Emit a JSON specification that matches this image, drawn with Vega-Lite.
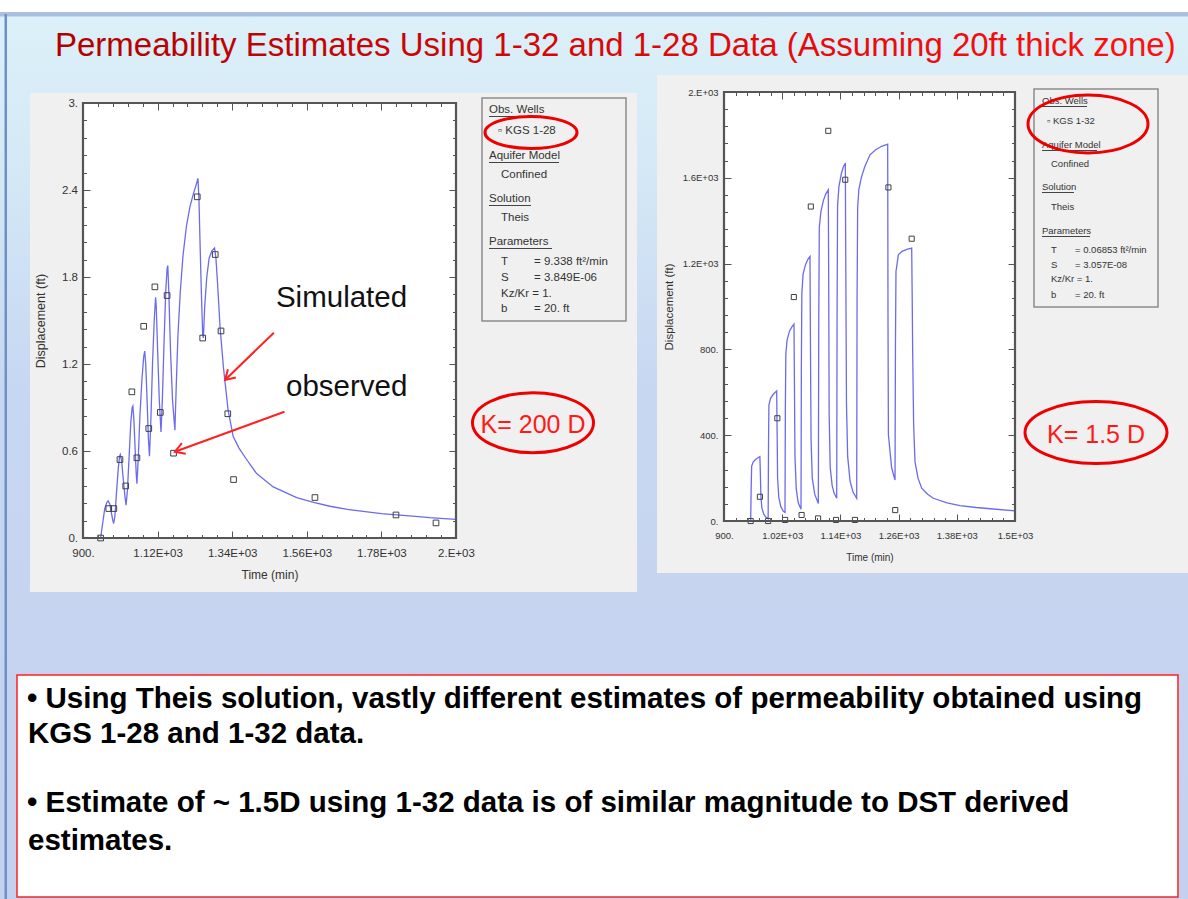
{
"$schema": "https://vega.github.io/schema/vega-lite/v6.json",
"width": 1188, "height": 899, "autosize": "none", "padding": 0,
"background": "#ffffff",
"config": {"view": {"stroke": null}, "font": "Liberation Sans, Arial, sans-serif", "axis": {"zindex": 2}},
"data": {"values": [{}]},
"datasets": {
"left_obs": [
{"t":952,"v":0.0},{"t":976,"v":0.203},{"t":991,"v":0.203},{"t":1009,"v":0.541},{"t":1026,"v":0.359},{"t":1044,"v":1.008},{"t":1059,"v":0.553},{"t":1079,"v":1.46},{"t":1094,"v":0.755},{"t":1112,"v":1.732},{"t":1128,"v":0.866},{"t":1148,"v":1.672},{"t":1167,"v":0.585},{"t":1237,"v":2.353},{"t":1253,"v":1.379},{"t":1290,"v":1.955},{"t":1307,"v":1.428},{"t":1327,"v":0.857},{"t":1344,"v":0.403},{"t":1584,"v":0.279},{"t":1823,"v":0.159},{"t":1941,"v":0.104}],
"left_sim": [
{"t":952,"v":0},{"t":958,"v":0.1},{"t":964,"v":0.2},{"t":970,"v":0.245},{"t":974,"v":0.256},{"t":979,"v":0.235},{"t":984,"v":0.17},{"t":988,"v":0.12},{"t":990.5,"v":0.1},{"t":994,"v":0.15},{"t":999,"v":0.32},{"t":1004,"v":0.48},{"t":1008,"v":0.565},{"t":1010,"v":0.576},{"t":1014,"v":0.53},{"t":1019,"v":0.4},{"t":1024,"v":0.28},{"t":1027,"v":0.226},{"t":1031,"v":0.33},{"t":1036,"v":0.56},{"t":1041,"v":0.8},{"t":1045,"v":0.9},{"t":1047,"v":0.91},{"t":1050,"v":0.82},{"t":1054,"v":0.6},{"t":1057,"v":0.44},{"t":1059,"v":0.375},{"t":1063,"v":0.55},{"t":1068,"v":0.85},{"t":1074,"v":1.1},{"t":1079,"v":1.25},{"t":1082,"v":1.289},{"t":1085,"v":1.2},{"t":1089,"v":0.95},{"t":1093,"v":0.68},{"t":1096,"v":0.564},{"t":1100,"v":0.8},{"t":1105,"v":1.2},{"t":1110,"v":1.5},{"t":1114,"v":1.66},{"t":1116,"v":1.6},{"t":1120,"v":1.3},{"t":1125,"v":0.95},{"t":1130,"v":0.732},{"t":1134,"v":0.95},{"t":1139,"v":1.35},{"t":1144,"v":1.7},{"t":1148,"v":1.86},{"t":1150,"v":1.879},{"t":1153,"v":1.7},{"t":1158,"v":1.3},{"t":1164,"v":0.95},{"t":1171,"v":0.744},{"t":1175,"v":1.05},{"t":1180,"v":1.4},{"t":1187,"v":1.7},{"t":1195,"v":1.95},{"t":1205,"v":2.15},{"t":1215,"v":2.28},{"t":1225,"v":2.37},{"t":1233,"v":2.43},{"t":1239,"v":2.48},{"t":1242,"v":2.33},{"t":1245,"v":2.05},{"t":1249,"v":1.7},{"t":1253,"v":1.4},{"t":1255,"v":1.38},{"t":1259,"v":1.6},{"t":1265,"v":1.8},{"t":1272,"v":1.93},{"t":1280,"v":1.98},{"t":1288,"v":2.0},{"t":1292,"v":1.93},{"t":1297,"v":1.75},{"t":1304,"v":1.46},{"t":1314,"v":1.18},{"t":1328,"v":0.88},{"t":1343,"v":0.7},{"t":1360,"v":0.62},{"t":1380,"v":0.55},{"t":1412,"v":0.444},{"t":1461,"v":0.352},{"t":1530,"v":0.279},{"t":1580,"v":0.245},{"t":1628,"v":0.219},{"t":1680,"v":0.197},{"t":1726,"v":0.184},{"t":1780,"v":0.168},{"t":1825,"v":0.159},{"t":1880,"v":0.149},{"t":1923,"v":0.14},{"t":1965,"v":0.134},{"t":2000,"v":0.129}],
"right_obs": [
{"t":955,"v":0},{"t":974,"v":113},{"t":991,"v":0},{"t":1010,"v":479},{"t":1026,"v":5},{"t":1044,"v":1044},{"t":1060,"v":28},{"t":1079,"v":1466},{"t":1094,"v":12},{"t":1115,"v":1819},{"t":1131,"v":5},{"t":1150,"v":1591},{"t":1170,"v":5},{"t":1239,"v":1555},{"t":1253,"v":51},{"t":1287,"v":1316}],
"right_sim": [
{"t":955,"v":0},{"t":956,"v":150},{"t":957,"v":255},{"t":960,"v":275},{"t":965,"v":287},{"t":970,"v":295},{"t":974,"v":300},{"t":975,"v":220},{"t":976,"v":120},{"t":978,"v":62},{"t":982,"v":32},{"t":987,"v":16},{"t":991,"v":10},{"t":991.8,"v":360},{"t":992.6,"v":540},{"t":996,"v":572},{"t":1002,"v":592},{"t":1008.6,"v":606},{"t":1009.5,"v":420},{"t":1010.5,"v":200},{"t":1013,"v":110},{"t":1017,"v":68},{"t":1022,"v":46},{"t":1025.8,"v":40},{"t":1026.5,"v":520},{"t":1027.5,"v":780},{"t":1030,"v":842},{"t":1035,"v":885},{"t":1040,"v":905},{"t":1044.3,"v":918},{"t":1045.2,"v":650},{"t":1046.3,"v":300},{"t":1049,"v":150},{"t":1053,"v":85},{"t":1058.8,"v":55},{"t":1059.5,"v":720},{"t":1060.5,"v":1060},{"t":1063,"v":1150},{"t":1068,"v":1195},{"t":1073,"v":1220},{"t":1077.3,"v":1233},{"t":1078.2,"v":850},{"t":1079.5,"v":380},{"t":1082,"v":200},{"t":1087,"v":125},{"t":1094.5,"v":82},{"t":1095.4,"v":950},{"t":1096.5,"v":1370},{"t":1100,"v":1445},{"t":1105,"v":1495},{"t":1110,"v":1525},{"t":1115,"v":1544},{"t":1115.8,"v":1150},{"t":1116.8,"v":500},{"t":1119,"v":250},{"t":1123,"v":165},{"t":1127,"v":130},{"t":1132.4,"v":106},{"t":1133.2,"v":1000},{"t":1134.2,"v":1470},{"t":1137,"v":1560},{"t":1142,"v":1620},{"t":1146,"v":1650},{"t":1150.2,"v":1669},{"t":1151,"v":1250},{"t":1152.5,"v":550},{"t":1155,"v":300},{"t":1160,"v":185},{"t":1166,"v":135},{"t":1173.6,"v":106},{"t":1174.4,"v":1050},{"t":1175.6,"v":1460},{"t":1178,"v":1545},{"t":1183,"v":1600},{"t":1190,"v":1650},{"t":1201,"v":1707},{"t":1212,"v":1730},{"t":1225,"v":1747},{"t":1237.5,"v":1757},{"t":1238.2,"v":900},{"t":1239,"v":401},{"t":1245.7,"v":247},{"t":1252.6,"v":191},{"t":1253.5,"v":820},{"t":1254.6,"v":1163},{"t":1259.5,"v":1241},{"t":1267,"v":1257},{"t":1277,"v":1266},{"t":1287,"v":1272},{"t":1288,"v":1050},{"t":1289,"v":790},{"t":1291,"v":450},{"t":1293.8,"v":277},{"t":1300,"v":200},{"t":1307.6,"v":153},{"t":1320,"v":125},{"t":1331.6,"v":106},{"t":1360,"v":85},{"t":1386.6,"v":72},{"t":1420,"v":63},{"t":1455,"v":56},{"t":1500,"v":47}]
},
"resolve": {"scale": {"x": "independent", "y": "independent"}, "axis": {"x": "independent", "y": "independent"}},
"layer": [
{
"layer": [
{"mark": {"type": "rect", "fill": {"gradient": "linear", "x1": 0, "y1": 0, "x2": 0, "y2": 1, "stops": [{"offset": 0, "color": "#dbf0f8"}, {"offset": 0.15, "color": "#d5eaf6"}, {"offset": 0.42, "color": "#c8d7f1"}, {"offset": 1, "color": "#c3d0ef"}]}},
 "encoding": {"x": {"datum": 0, "type": "quantitative", "scale": {"domain": [0, 1188], "range": [0, 1188], "nice": false, "zero": false}, "axis": null}, "x2": {"datum": 1188},
  "y": {"datum": 15, "type": "quantitative", "scale": {"domain": [0, 899], "range": [0, 899], "nice": false, "zero": false}, "axis": null}, "y2": {"datum": 899}}},
{"mark": {"type": "rect", "fill": "#a9bfe2"}, "encoding": {"x": {"datum": 0, "type": "quantitative", "axis": null}, "x2": {"datum": 1188}, "y": {"datum": 12, "type": "quantitative", "axis": null}, "y2": {"datum": 16.5}}},
{"mark": {"type": "rect", "fill": "#6f90c6"}, "encoding": {"x": {"datum": 4.5, "type": "quantitative", "axis": null}, "x2": {"datum": 7}, "y": {"datum": 14, "type": "quantitative", "axis": null}, "y2": {"datum": 899}}},
{"mark": {"type": "rect", "fill": "#f0f0f0"}, "encoding": {"x": {"datum": 30, "type": "quantitative", "axis": null}, "x2": {"datum": 637}, "y": {"datum": 93, "type": "quantitative", "axis": null}, "y2": {"datum": 592}}},
{"mark": {"type": "rect", "fill": "#f0f0f0"}, "encoding": {"x": {"datum": 657, "type": "quantitative", "axis": null}, "x2": {"datum": 1188}, "y": {"datum": 75, "type": "quantitative", "axis": null}, "y2": {"datum": 573}}},
{"mark": {"type": "rect", "fill": "#f0f0f0", "stroke": "#8c8c8c", "strokeWidth": 1.5}, "encoding": {"x": {"datum": 482, "type": "quantitative", "axis": null}, "x2": {"datum": 626}, "y": {"datum": 98, "type": "quantitative", "axis": null}, "y2": {"datum": 321}}},
{"mark": {"type": "rect", "fill": "#f0f0f0", "stroke": "#8c8c8c", "strokeWidth": 1.5}, "encoding": {"x": {"datum": 1034, "type": "quantitative", "axis": null}, "x2": {"datum": 1158}, "y": {"datum": 89, "type": "quantitative", "axis": null}, "y2": {"datum": 307}}},
{"mark": {"type": "text", "text": "Permeability Estimates Using 1-32 and 1-28 Data (Assuming 20ft thick zone)", "align": "left", "baseline": "alphabetic", "fontSize": 33, "font": "Liberation Sans, Arial, sans-serif", "fill": {"gradient": "linear", "x1": 0, "y1": 0, "x2": 1, "y2": 0, "stops": [{"offset": 0, "color": "#b00000"}, {"offset": 1, "color": "#ff1010"}]}},
 "encoding": {"x": {"datum": 55, "type": "quantitative", "axis": null}, "y": {"datum": 56, "type": "quantitative", "axis": null}}},
{"mark": {"type": "rect", "fill": "#ffffff", "stroke": "#ff2020", "strokeWidth": 1.5}, "encoding": {"x": {"datum": 17, "type": "quantitative", "axis": null}, "x2": {"datum": 1178}, "y": {"datum": 675, "type": "quantitative", "axis": null}, "y2": {"datum": 897}}},
{"mark": {"type": "text", "text": "• Using Theis solution, vastly different estimates of permeability obtained using", "align": "left", "baseline": "alphabetic", "fontSize": 29.5, "fontWeight": "bold", "color": "#000000"}, "encoding": {"x": {"datum": 27, "type": "quantitative", "axis": null}, "y": {"datum": 708, "type": "quantitative", "axis": null}}},
{"mark": {"type": "text", "text": "KGS 1-28 and 1-32 data.", "align": "left", "baseline": "alphabetic", "fontSize": 29.5, "fontWeight": "bold", "color": "#000000"}, "encoding": {"x": {"datum": 28, "type": "quantitative", "axis": null}, "y": {"datum": 743, "type": "quantitative", "axis": null}}},
{"mark": {"type": "text", "text": "•  Estimate of  ~ 1.5D using 1-32 data is of similar magnitude to DST derived", "align": "left", "baseline": "alphabetic", "fontSize": 29.5, "fontWeight": "bold", "color": "#000000"}, "encoding": {"x": {"datum": 27, "type": "quantitative", "axis": null}, "y": {"datum": 812, "type": "quantitative", "axis": null}}},
{"mark": {"type": "text", "text": "estimates.", "align": "left", "baseline": "alphabetic", "fontSize": 29.5, "fontWeight": "bold", "color": "#000000"}, "encoding": {"x": {"datum": 28, "type": "quantitative", "axis": null}, "y": {"datum": 850, "type": "quantitative", "axis": null}}},

{"mark": {"type": "text", "text": "Obs. Wells", "align": "left", "baseline": "middle", "fontSize": 11.5, "color": "#333333"}, "encoding": {"x": {"datum": 489, "type": "quantitative", "axis": null}, "y": {"datum": 110, "type": "quantitative", "axis": null}}},
{"mark": {"type": "text", "text": "▫ KGS 1-28", "align": "left", "baseline": "middle", "fontSize": 11.5, "color": "#333333"}, "encoding": {"x": {"datum": 498, "type": "quantitative", "axis": null}, "y": {"datum": 131, "type": "quantitative", "axis": null}}},
{"mark": {"type": "text", "text": "Aquifer Model", "align": "left", "baseline": "middle", "fontSize": 11.5, "color": "#333333"}, "encoding": {"x": {"datum": 489, "type": "quantitative", "axis": null}, "y": {"datum": 156, "type": "quantitative", "axis": null}}},
{"mark": {"type": "text", "text": "Confined", "align": "left", "baseline": "middle", "fontSize": 11.5, "color": "#333333"}, "encoding": {"x": {"datum": 501, "type": "quantitative", "axis": null}, "y": {"datum": 175, "type": "quantitative", "axis": null}}},
{"mark": {"type": "text", "text": "Solution", "align": "left", "baseline": "middle", "fontSize": 11.5, "color": "#333333"}, "encoding": {"x": {"datum": 489, "type": "quantitative", "axis": null}, "y": {"datum": 199, "type": "quantitative", "axis": null}}},
{"mark": {"type": "text", "text": "Theis", "align": "left", "baseline": "middle", "fontSize": 11.5, "color": "#333333"}, "encoding": {"x": {"datum": 501, "type": "quantitative", "axis": null}, "y": {"datum": 218, "type": "quantitative", "axis": null}}},
{"mark": {"type": "text", "text": "Parameters", "align": "left", "baseline": "middle", "fontSize": 11.5, "color": "#333333"}, "encoding": {"x": {"datum": 489, "type": "quantitative", "axis": null}, "y": {"datum": 242, "type": "quantitative", "axis": null}}},
{"mark": {"type": "text", "text": "T", "align": "left", "baseline": "middle", "fontSize": 11.5, "color": "#333333"}, "encoding": {"x": {"datum": 501, "type": "quantitative", "axis": null}, "y": {"datum": 262, "type": "quantitative", "axis": null}}},
{"mark": {"type": "text", "text": "= 9.338 ft²/min", "align": "left", "baseline": "middle", "fontSize": 11.5, "color": "#333333"}, "encoding": {"x": {"datum": 534, "type": "quantitative", "axis": null}, "y": {"datum": 262, "type": "quantitative", "axis": null}}},
{"mark": {"type": "text", "text": "S", "align": "left", "baseline": "middle", "fontSize": 11.5, "color": "#333333"}, "encoding": {"x": {"datum": 501, "type": "quantitative", "axis": null}, "y": {"datum": 278, "type": "quantitative", "axis": null}}},
{"mark": {"type": "text", "text": "= 3.849E-06", "align": "left", "baseline": "middle", "fontSize": 11.5, "color": "#333333"}, "encoding": {"x": {"datum": 534, "type": "quantitative", "axis": null}, "y": {"datum": 278, "type": "quantitative", "axis": null}}},
{"mark": {"type": "text", "text": "Kz/Kr = 1.", "align": "left", "baseline": "middle", "fontSize": 11.5, "color": "#333333"}, "encoding": {"x": {"datum": 501, "type": "quantitative", "axis": null}, "y": {"datum": 294, "type": "quantitative", "axis": null}}},
{"mark": {"type": "text", "text": "b", "align": "left", "baseline": "middle", "fontSize": 11.5, "color": "#333333"}, "encoding": {"x": {"datum": 501, "type": "quantitative", "axis": null}, "y": {"datum": 309, "type": "quantitative", "axis": null}}},
{"mark": {"type": "text", "text": "= 20. ft", "align": "left", "baseline": "middle", "fontSize": 11.5, "color": "#333333"}, "encoding": {"x": {"datum": 534, "type": "quantitative", "axis": null}, "y": {"datum": 309, "type": "quantitative", "axis": null}}},
{"mark": {"type": "rule", "color": "#444444", "strokeWidth": 1}, "encoding": {"x": {"datum": 489, "type": "quantitative", "axis": null}, "x2": {"datum": 547}, "y": {"datum": 116.5, "type": "quantitative", "axis": null}}},
{"mark": {"type": "rule", "color": "#444444", "strokeWidth": 1}, "encoding": {"x": {"datum": 489, "type": "quantitative", "axis": null}, "x2": {"datum": 559}, "y": {"datum": 162.5, "type": "quantitative", "axis": null}}},
{"mark": {"type": "rule", "color": "#444444", "strokeWidth": 1}, "encoding": {"x": {"datum": 489, "type": "quantitative", "axis": null}, "x2": {"datum": 531}, "y": {"datum": 205.5, "type": "quantitative", "axis": null}}},
{"mark": {"type": "rule", "color": "#444444", "strokeWidth": 1}, "encoding": {"x": {"datum": 489, "type": "quantitative", "axis": null}, "x2": {"datum": 552}, "y": {"datum": 248.5, "type": "quantitative", "axis": null}}},

{"mark": {"type": "text", "text": "Obs. Wells", "align": "left", "baseline": "middle", "fontSize": 9.5, "color": "#333333"}, "encoding": {"x": {"datum": 1042, "type": "quantitative", "axis": null}, "y": {"datum": 101, "type": "quantitative", "axis": null}}},
{"mark": {"type": "text", "text": "▫ KGS 1-32", "align": "left", "baseline": "middle", "fontSize": 9.5, "color": "#333333"}, "encoding": {"x": {"datum": 1047, "type": "quantitative", "axis": null}, "y": {"datum": 121, "type": "quantitative", "axis": null}}},
{"mark": {"type": "text", "text": "Aquifer Model", "align": "left", "baseline": "middle", "fontSize": 9.5, "color": "#333333"}, "encoding": {"x": {"datum": 1042, "type": "quantitative", "axis": null}, "y": {"datum": 145, "type": "quantitative", "axis": null}}},
{"mark": {"type": "text", "text": "Confined", "align": "left", "baseline": "middle", "fontSize": 9.5, "color": "#333333"}, "encoding": {"x": {"datum": 1051, "type": "quantitative", "axis": null}, "y": {"datum": 164, "type": "quantitative", "axis": null}}},
{"mark": {"type": "text", "text": "Solution", "align": "left", "baseline": "middle", "fontSize": 9.5, "color": "#333333"}, "encoding": {"x": {"datum": 1042, "type": "quantitative", "axis": null}, "y": {"datum": 187, "type": "quantitative", "axis": null}}},
{"mark": {"type": "text", "text": "Theis", "align": "left", "baseline": "middle", "fontSize": 9.5, "color": "#333333"}, "encoding": {"x": {"datum": 1051, "type": "quantitative", "axis": null}, "y": {"datum": 207, "type": "quantitative", "axis": null}}},
{"mark": {"type": "text", "text": "Parameters", "align": "left", "baseline": "middle", "fontSize": 9.5, "color": "#333333"}, "encoding": {"x": {"datum": 1042, "type": "quantitative", "axis": null}, "y": {"datum": 231, "type": "quantitative", "axis": null}}},
{"mark": {"type": "text", "text": "T", "align": "left", "baseline": "middle", "fontSize": 9.5, "color": "#333333"}, "encoding": {"x": {"datum": 1051, "type": "quantitative", "axis": null}, "y": {"datum": 250, "type": "quantitative", "axis": null}}},
{"mark": {"type": "text", "text": "= 0.06853 ft²/min", "align": "left", "baseline": "middle", "fontSize": 9.5, "color": "#333333"}, "encoding": {"x": {"datum": 1075, "type": "quantitative", "axis": null}, "y": {"datum": 250, "type": "quantitative", "axis": null}}},
{"mark": {"type": "text", "text": "S", "align": "left", "baseline": "middle", "fontSize": 9.5, "color": "#333333"}, "encoding": {"x": {"datum": 1051, "type": "quantitative", "axis": null}, "y": {"datum": 265, "type": "quantitative", "axis": null}}},
{"mark": {"type": "text", "text": "= 3.057E-08", "align": "left", "baseline": "middle", "fontSize": 9.5, "color": "#333333"}, "encoding": {"x": {"datum": 1075, "type": "quantitative", "axis": null}, "y": {"datum": 265, "type": "quantitative", "axis": null}}},
{"mark": {"type": "text", "text": "Kz/Kr = 1.", "align": "left", "baseline": "middle", "fontSize": 9.5, "color": "#333333"}, "encoding": {"x": {"datum": 1051, "type": "quantitative", "axis": null}, "y": {"datum": 279, "type": "quantitative", "axis": null}}},
{"mark": {"type": "text", "text": "b", "align": "left", "baseline": "middle", "fontSize": 9.5, "color": "#333333"}, "encoding": {"x": {"datum": 1051, "type": "quantitative", "axis": null}, "y": {"datum": 295, "type": "quantitative", "axis": null}}},
{"mark": {"type": "text", "text": "= 20. ft", "align": "left", "baseline": "middle", "fontSize": 9.5, "color": "#333333"}, "encoding": {"x": {"datum": 1075, "type": "quantitative", "axis": null}, "y": {"datum": 295, "type": "quantitative", "axis": null}}},
{"mark": {"type": "rule", "color": "#444444", "strokeWidth": 1}, "encoding": {"x": {"datum": 1042, "type": "quantitative", "axis": null}, "x2": {"datum": 1087}, "y": {"datum": 106.5, "type": "quantitative", "axis": null}}},
{"mark": {"type": "rule", "color": "#444444", "strokeWidth": 1}, "encoding": {"x": {"datum": 1042, "type": "quantitative", "axis": null}, "x2": {"datum": 1097}, "y": {"datum": 150.5, "type": "quantitative", "axis": null}}},
{"mark": {"type": "rule", "color": "#444444", "strokeWidth": 1}, "encoding": {"x": {"datum": 1042, "type": "quantitative", "axis": null}, "x2": {"datum": 1074}, "y": {"datum": 192.5, "type": "quantitative", "axis": null}}},
{"mark": {"type": "rule", "color": "#444444", "strokeWidth": 1}, "encoding": {"x": {"datum": 1042, "type": "quantitative", "axis": null}, "x2": {"datum": 1090}, "y": {"datum": 236.5, "type": "quantitative", "axis": null}}},

{"mark": {"type": "point", "shape": "M-1,0C-1,-0.192,-0.552,-0.348,0,-0.348C0.552,-0.348,1,-0.192,1,0C1,0.192,0.552,0.348,0,0.348C-0.552,0.348,-1,0.192,-1,0Z", "size": 8464, "filled": false, "stroke": "#ee0000", "strokeWidth": 3, "opacity": 1}, "encoding": {"x": {"datum": 531, "type": "quantitative", "axis": null}, "y": {"datum": 132.5, "type": "quantitative", "axis": null}}},
{"mark": {"type": "point", "shape": "M-1,0C-1,-0.267,-0.552,-0.483,0,-0.483C0.552,-0.483,1,-0.267,1,0C1,0.267,0.552,0.483,0,0.483C-0.552,0.483,-1,0.267,-1,0Z", "size": 14400, "filled": false, "stroke": "#ee0000", "strokeWidth": 3, "opacity": 1}, "encoding": {"x": {"datum": 1088, "type": "quantitative", "axis": null}, "y": {"datum": 124, "type": "quantitative", "axis": null}}},
{"mark": {"type": "point", "shape": "M-1,0C-1,-0.274,-0.552,-0.496,0,-0.496C0.552,-0.496,1,-0.274,1,0C1,0.274,0.552,0.496,0,0.496C-0.552,0.496,-1,0.274,-1,0Z", "size": 14641, "filled": false, "stroke": "#ee0000", "strokeWidth": 3, "opacity": 1}, "encoding": {"x": {"datum": 533, "type": "quantitative", "axis": null}, "y": {"datum": 422.7, "type": "quantitative", "axis": null}}},
{"mark": {"type": "point", "shape": "M-1,0C-1,-0.241,-0.552,-0.437,0,-0.437C0.552,-0.437,1,-0.241,1,0C1,0.241,0.552,0.437,0,0.437C-0.552,0.437,-1,0.241,-1,0Z", "size": 20164, "filled": false, "stroke": "#ee0000", "strokeWidth": 3, "opacity": 1}, "encoding": {"x": {"datum": 1096, "type": "quantitative", "axis": null}, "y": {"datum": 432.5, "type": "quantitative", "axis": null}}},
{"mark": {"type": "text", "text": "K= 200 D", "align": "center", "baseline": "middle", "fontSize": 25, "color": "#ff1a1a"}, "encoding": {"x": {"datum": 533, "type": "quantitative", "axis": null}, "y": {"datum": 425, "type": "quantitative", "axis": null}}},
{"mark": {"type": "text", "text": "K= 1.5 D", "align": "center", "baseline": "middle", "fontSize": 25, "color": "#ff1a1a"}, "encoding": {"x": {"datum": 1096, "type": "quantitative", "axis": null}, "y": {"datum": 435, "type": "quantitative", "axis": null}}}
]
},
{
"resolve": {"axis": {"x": "independent", "y": "independent"}},
"layer": [
{"mark": {"type": "rect", "fill": "#ffffff"},
 "encoding": {
  "x": {"datum": 900, "type": "quantitative", "scale": {"domain": [900, 2000], "range": [83, 456], "nice": false, "zero": false},
   "axis": {"orient": "bottom", "offset": -361, "zindex": 2, "values": [900, 1120, 1340, 1560, 1780, 2000], "labelExpr": "datum.value == 900 ? '900.' : datum.value == 2000 ? '2.E+03' : format(datum.value / 1000, '.2f') + 'E+03'", "tickSize": -7, "tickColor": "#555555", "tickWidth": 1, "labelPadding": 16, "labelFontSize": 11.5, "labelColor": "#333333", "labelFlush": false, "labelOverlap": false, "domain": false, "grid": false, "title": "Time (min)", "titleFontSize": 12, "titleFontWeight": "normal", "titleColor": "#333333", "titlePadding": 11}},
  "x2": {"datum": 2000},
  "y": {"datum": 0, "type": "quantitative", "scale": {"domain": [0, 3], "range": [538, 103], "nice": false, "zero": false},
   "axis": {"orient": "left", "offset": -83, "zindex": 2, "values": [0, 0.6, 1.2, 1.8, 2.4, 3], "labelExpr": "datum.value == 0 ? '0.' : datum.value == 3 ? '3.' : format(datum.value, '.1f')", "tickSize": -7, "tickColor": "#555555", "tickWidth": 1, "labelPadding": 12.5, "labelFontSize": 11.5, "labelColor": "#333333", "labelFlush": false, "labelOverlap": false, "domain": false, "grid": false, "title": "Displacement (ft)", "titleFontSize": 12.5, "titleFontWeight": "normal", "titleColor": "#333333", "titlePadding": 14}},
  "y2": {"datum": 3}}},
{"data": {"name": "left_sim"}, "mark": {"type": "line", "color": "#6b6bf0", "strokeWidth": 1.3, "clip": true},
 "encoding": {
  "x": {"field": "t", "type": "quantitative", "axis": {"orient": "bottom", "offset": -361, "zindex": 2, "values": [900,944,988,1032,1076,1120,1164,1208,1252,1296,1340,1384,1428,1472,1516,1560,1604,1648,1692,1736,1780,1824,1868,1912,1956,2000], "tickSize": -3.5, "tickColor": "#555555", "labels": false, "domain": false, "grid": false, "title": null}},
  "y": {"field": "v", "type": "quantitative", "axis": {"orient": "left", "offset": -83, "zindex": 2, "values": [0,0.12,0.24,0.36,0.48,0.6,0.72,0.84,0.96,1.08,1.2,1.32,1.44,1.56,1.68,1.8,1.92,2.04,2.16,2.28,2.4,2.52,2.64,2.76,2.88,3], "tickSize": -3.5, "tickColor": "#555555", "labels": false, "domain": false, "grid": false, "title": null}}}},
{"data": {"name": "left_obs"}, "mark": {"type": "point", "shape": "square", "filled": false, "stroke": "#404040", "strokeWidth": 1, "size": 32, "opacity": 1},
 "encoding": {
  "x": {"field": "t", "type": "quantitative", "axis": {"orient": "top", "offset": -103, "zindex": 2, "values": [900, 1120, 1340, 1560, 1780, 2000], "tickSize": -7, "tickColor": "#555555", "labels": false, "domain": false, "grid": false, "title": null}},
  "y": {"field": "v", "type": "quantitative", "axis": {"orient": "right", "offset": -732, "zindex": 2, "values": [0, 0.6, 1.2, 1.8, 2.4, 3], "tickSize": -7, "tickColor": "#555555", "labels": false, "domain": false, "grid": false, "title": null}}}},
{"mark": {"type": "rect", "fill": null, "stroke": "#555555", "strokeWidth": 2.2},
 "encoding": {
  "x": {"datum": 900, "type": "quantitative", "axis": {"orient": "top", "offset": -103, "zindex": 2, "values": [900,944,988,1032,1076,1120,1164,1208,1252,1296,1340,1384,1428,1472,1516,1560,1604,1648,1692,1736,1780,1824,1868,1912,1956,2000], "tickSize": -3.5, "tickColor": "#555555", "labels": false, "domain": false, "grid": false, "title": null}},
  "x2": {"datum": 2000},
  "y": {"datum": 0, "type": "quantitative", "axis": {"orient": "right", "offset": -732, "zindex": 2, "values": [0,0.12,0.24,0.36,0.48,0.6,0.72,0.84,0.96,1.08,1.2,1.32,1.44,1.56,1.68,1.8,1.92,2.04,2.16,2.28,2.4,2.52,2.64,2.76,2.88,3], "tickSize": -3.5, "tickColor": "#555555", "labels": false, "domain": false, "grid": false, "title": null}},
  "y2": {"datum": 3}}},
{"mark": {"type": "rule", "color": "#ff2020", "strokeWidth": 2}, "encoding": {"x": {"datum": 1463, "type": "quantitative", "axis": null}, "x2": {"datum": 1319}, "y": {"datum": 1.416, "type": "quantitative", "axis": null}, "y2": {"datum": 1.09}}},
{"mark": {"type": "rule", "color": "#ff2020", "strokeWidth": 2}, "encoding": {"x": {"datum": 1494, "type": "quantitative", "axis": null}, "x2": {"datum": 1171}, "y": {"datum": 0.871, "type": "quantitative", "axis": null}, "y2": {"datum": 0.595}}},
{"mark": {"type": "point", "shape": "M-0.6,1L0,0L0.6,1", "size": 360, "angle": 226, "filled": false, "stroke": "#ff2020", "strokeWidth": 2, "opacity": 1}, "encoding": {"x": {"datum": 1319, "type": "quantitative", "axis": null}, "y": {"datum": 1.09, "type": "quantitative", "axis": null}}},
{"mark": {"type": "point", "shape": "M-0.6,1L0,0L0.6,1", "size": 360, "angle": 250, "filled": false, "stroke": "#ff2020", "strokeWidth": 2, "opacity": 1}, "encoding": {"x": {"datum": 1171, "type": "quantitative", "axis": null}, "y": {"datum": 0.595, "type": "quantitative", "axis": null}}},
{"mark": {"type": "text", "text": "Simulated", "align": "left", "baseline": "alphabetic", "fontSize": 29.5, "color": "#111111"}, "encoding": {"x": {"datum": 1469, "type": "quantitative", "axis": null}, "y": {"datum": 1.593, "type": "quantitative", "axis": null}}},
{"mark": {"type": "text", "text": "observed", "align": "left", "baseline": "alphabetic", "fontSize": 29.5, "color": "#111111"}, "encoding": {"x": {"datum": 1498.6, "type": "quantitative", "axis": null}, "y": {"datum": 0.979, "type": "quantitative", "axis": null}}}
]
},
{
"resolve": {"axis": {"x": "independent", "y": "independent"}},
"layer": [
{"mark": {"type": "rect", "fill": "#ffffff"},
 "encoding": {
  "x": {"datum": 900, "type": "quantitative", "scale": {"domain": [900, 1500], "range": [724, 1015], "nice": false, "zero": false},
   "axis": {"orient": "bottom", "offset": -378, "zindex": 2, "values": [900, 1020, 1140, 1260, 1380, 1500], "labelExpr": "datum.value == 900 ? '900.' : datum.value == 1500 ? '1.5E+03' : format(datum.value / 1000, '.2f') + 'E+03'", "tickSize": -7, "tickColor": "#555555", "tickWidth": 1, "labelPadding": 16.5, "labelFontSize": 9.5, "labelColor": "#333333", "labelFlush": false, "labelOverlap": false, "domain": false, "grid": false, "title": "Time (min)", "titleFontSize": 10, "titleFontWeight": "normal", "titleColor": "#333333", "titlePadding": 12}},
  "x2": {"datum": 1500},
  "y": {"datum": 0, "type": "quantitative", "scale": {"domain": [0, 2000], "range": [521, 92], "nice": false, "zero": false},
   "axis": {"orient": "left", "offset": -724, "zindex": 2, "values": [0, 400, 800, 1200, 1600, 2000], "labelExpr": "datum.value == 0 ? '0.' : datum.value < 1000 ? format(datum.value, 'd') + '.' : datum.value == 2000 ? '2.E+03' : format(datum.value / 1000, '.1f') + 'E+03'", "tickSize": -7, "tickColor": "#555555", "tickWidth": 1, "labelPadding": 13, "labelFontSize": 9.5, "labelColor": "#333333", "labelFlush": false, "labelOverlap": false, "domain": false, "grid": false, "title": "Displacement (ft)", "titleFontSize": 11.5, "titleFontWeight": "normal", "titleColor": "#333333", "titlePadding": 8}},
  "y2": {"datum": 2000}}},
{"data": {"name": "right_sim"}, "mark": {"type": "line", "color": "#6b6bf0", "strokeWidth": 1.3, "clip": true},
 "encoding": {
  "x": {"field": "t", "type": "quantitative", "axis": {"orient": "bottom", "offset": -378, "zindex": 2, "values": [900,924,948,972,996,1020,1044,1068,1092,1116,1140,1164,1188,1212,1236,1260,1284,1308,1332,1356,1380,1404,1428,1452,1476,1500], "tickSize": -3.5, "tickColor": "#555555", "labels": false, "domain": false, "grid": false, "title": null}},
  "y": {"field": "v", "type": "quantitative", "axis": {"orient": "left", "offset": -724, "zindex": 2, "values": [0,80,160,240,320,400,480,560,640,720,800,880,960,1040,1120,1200,1280,1360,1440,1520,1600,1680,1760,1840,1920,2000], "tickSize": -3.5, "tickColor": "#555555", "labels": false, "domain": false, "grid": false, "title": null}}}},
{"data": {"name": "right_obs"}, "mark": {"type": "point", "shape": "square", "filled": false, "stroke": "#404040", "strokeWidth": 1, "size": 26, "opacity": 1},
 "encoding": {
  "x": {"field": "t", "type": "quantitative", "axis": {"orient": "top", "offset": -92, "zindex": 2, "values": [900, 1020, 1140, 1260, 1380, 1500], "tickSize": -7, "tickColor": "#555555", "labels": false, "domain": false, "grid": false, "title": null}},
  "y": {"field": "v", "type": "quantitative", "axis": {"orient": "right", "offset": -173, "zindex": 2, "values": [0, 400, 800, 1200, 1600, 2000], "tickSize": -7, "tickColor": "#555555", "labels": false, "domain": false, "grid": false, "title": null}}}},
{"mark": {"type": "rect", "fill": null, "stroke": "#555555", "strokeWidth": 2.2},
 "encoding": {
  "x": {"datum": 900, "type": "quantitative", "axis": {"orient": "top", "offset": -92, "zindex": 2, "values": [900,924,948,972,996,1020,1044,1068,1092,1116,1140,1164,1188,1212,1236,1260,1284,1308,1332,1356,1380,1404,1428,1452,1476,1500], "tickSize": -3.5, "tickColor": "#555555", "labels": false, "domain": false, "grid": false, "title": null}},
  "x2": {"datum": 1500},
  "y": {"datum": 0, "type": "quantitative", "axis": {"orient": "right", "offset": -173, "zindex": 2, "values": [0,80,160,240,320,400,480,560,640,720,800,880,960,1040,1120,1200,1280,1360,1440,1520,1600,1680,1760,1840,1920,2000], "tickSize": -3.5, "tickColor": "#555555", "labels": false, "domain": false, "grid": false, "title": null}},
  "y2": {"datum": 2000}}}
]
}
]
}
